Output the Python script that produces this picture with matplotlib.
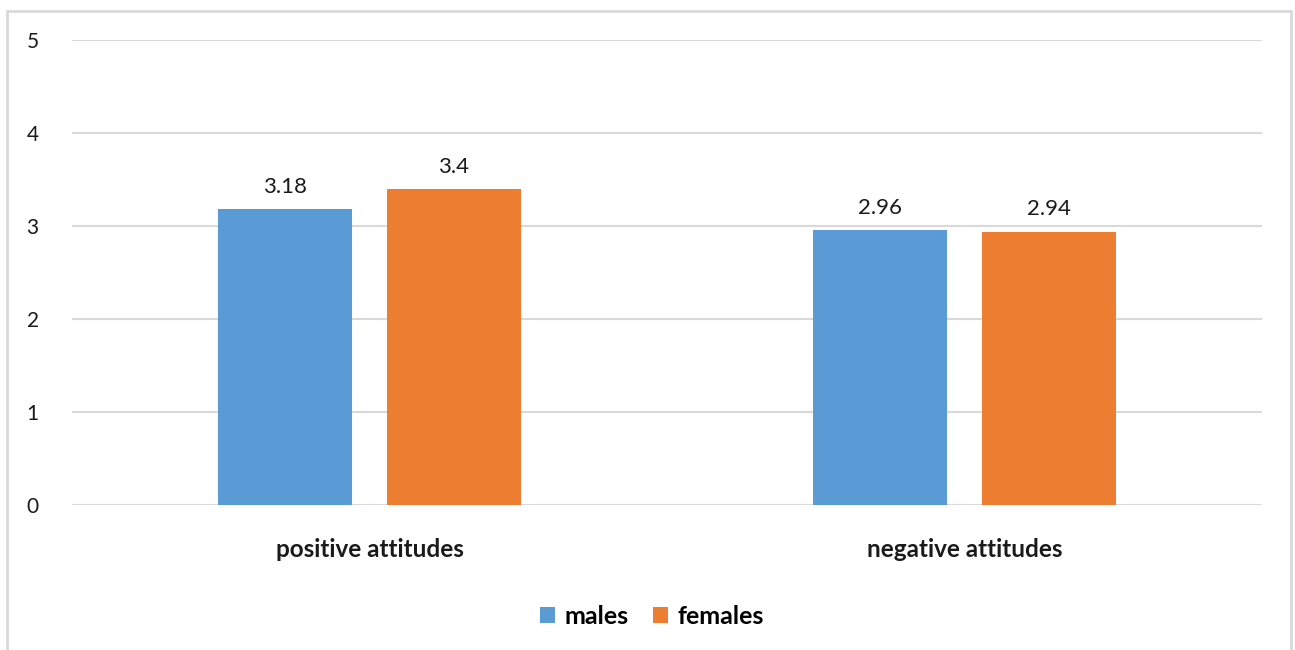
import matplotlib
matplotlib.use("Agg")
import matplotlib.pyplot as plt
from matplotlib.patches import Rectangle
import numpy as np

categories = ["positive attitudes", "negative attitudes"]
series_names = ["males", "females"]
males = [3.18, 2.96]
females = [3.4, 2.94]
y_ticks = [0, 1, 2, 3, 4, 5]

blue = "#5b9bd5"
orange = "#ed7d31"
grid_col = "#d9d9d9"

plt.rcParams["font.family"] = ["Lato", "DejaVu Sans"]

W, H = 1295, 650
fig = plt.figure(figsize=(W / 100, H / 100), dpi=100)

# outer chart frame
fig.patches.append(Rectangle((7 / W, -0.01), (1291 - 7) / W, (H - 11) / H + 0.01,
                             transform=fig.transFigure, fill=False,
                             edgecolor="#d9d9d9", linewidth=2))

ax = fig.add_axes([72 / W, 1 - 505 / H, (1262 - 72) / W, (505 - 40) / H])

x = np.arange(len(categories))
bw = 0.225
off = 0.142
b1 = ax.bar(x - off, males, bw, color=blue, label=series_names[0], zorder=3)
b2 = ax.bar(x + off, females, bw, color=orange, label=series_names[1], zorder=3)

for bars, vals in ((b1, males), (b2, females)):
    for rect, v in zip(bars, vals):
        ax.text(rect.get_x() + rect.get_width() / 2, v + 0.13, f"{v:g}",
                ha="center", va="bottom", fontsize=16, color="#1a1a1a")

ax.set_xlim(-0.5, 1.5)
ax.set_ylim(0, 5)
ax.set_yticks(y_ticks)
ax.set_yticklabels([str(t) for t in y_ticks], fontsize=15, color="#1a1a1a")
ax.tick_params(axis="y", length=0, pad=24)
ax.set_xticks(x)
ax.set_xticklabels(categories, fontsize=17.5, fontweight="bold", color="#1a1a1a")
ax.tick_params(axis="x", length=0, pad=24)
ax.yaxis.grid(True, color=grid_col, linewidth=1.5, zorder=0)
for s in ax.spines.values():
    s.set_visible(False)

leg = fig.legend(handles=[b1, b2], labels=series_names, loc="center",
                 bbox_to_anchor=(652 / W, 1 - 616 / H), ncol=2, frameon=False,
                 prop={"size": 18, "weight": "bold"}, handlelength=0.6,
                 handleheight=0.6, handletextpad=0.35, columnspacing=1.0)

fig.savefig("out.png", dpi=100)
